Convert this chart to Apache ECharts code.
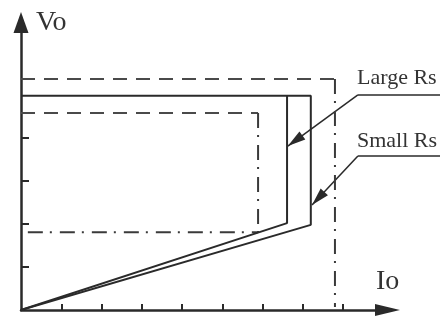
<!DOCTYPE html>
<html lang="en">
<head>
    <meta charset="UTF-8">
    <title>Vo - Io</title>
    <script src="https://cdn.jsdelivr.net/npm/echarts@6/dist/echarts.min.js"></script>
</head>
<body style="margin:0;background:#fff;">
<div id="main" style="width: 440px;height:320px;"></div>
<script>
    // one x unit = one tick on the Io axis, one y unit = one tick on the Vo axis
    var xTicks = [1, 2, 3, 4, 5, 6, 7, 8];
    var yTicks = [1, 2, 3, 4];

    // Vo-Io curves (solid)
    var largeRsCurve = [[0, 0], [6.61, 2.02], [6.61, 4.98]];
    var smallRsCurve = [[0, 0], [7.20, 1.98], [7.20, 4.98], [0, 4.98]];

    // outer limit box
    var outerTop = [[0, 5.37], [7.80, 5.37]];
    var outerSide = [[7.80, 5.37], [7.80, 0.07]];

    // inner limit box
    var innerTop = [[0, 4.58], [5.89, 4.58]];
    var innerSide = [[5.89, 4.58], [5.89, 1.81]];
    var innerBottom = [[0.17, 1.81], [5.89, 1.81]];

    // annotation leaders: underline + arrow to the curve
    var labelNames = ['Large Rs', 'Small Rs'];
    var underlines = [
        [[10.5, 5.0], [8.37, 5.0]],
        [[10.5, 3.58], [8.37, 3.58]]
    ];
    var pointers = [
        [[8.37, 5.0], [6.63, 3.81]],
        [[8.37, 3.58], [7.23, 2.44]]
    ];

    var myChart = echarts.init(document.getElementById('main'));

    var ink = '#2a2a2a';
    var serif = '"Liberation Serif", "DejaVu Serif", serif';
    var dashDot = [15, 7, 2, 8];

    function seg(data, type, color) {
        return {
            type: 'line',
            data: data,
            showSymbol: false,
            symbol: 'none',
            clip: false,
            animation: false,
            lineStyle: {color: color || '#4a4a4a', width: 2, type: type}
        };
    }

    var option = {
        backgroundColor: '#fff',
        animation: false,
        grid: {left: 21, top: 33, right: 65, bottom: 10},
        xAxis: {
            type: 'value',
            min: 0,
            max: 8.795,
            axisLine: {
                lineStyle: {color: ink, width: 2.5},
                symbol: ['none', 'triangle'],
                symbolSize: [12, 25],
                symbolOffset: [0, 12.5]
            },
            axisTick: {show: true, inside: true, length: 6, customValues: xTicks, lineStyle: {color: ink, width: 2}},
            axisLabel: {show: false},
            splitLine: {show: false}
        },
        yAxis: {
            type: 'value',
            min: 0,
            max: 6.44,
            axisLine: {
                show: true,
                lineStyle: {color: ink, width: 2.5},
                symbol: ['none', 'triangle'],
                symbolSize: [15, 21],
                symbolOffset: [0, 10.5]
            },
            axisTick: {show: true, inside: true, length: 8, customValues: yTicks, lineStyle: {color: ink, width: 2}},
            axisLabel: {show: false},
            splitLine: {show: false}
        },
        graphic: [
            {type: 'text', style: {text: 'Vo', x: 36, y: 23, font: '28px ' + serif, fill: '#333', align: 'left', verticalAlign: 'middle'}},
            {type: 'text', style: {text: 'Io', x: 376, y: 282, font: '28px ' + serif, fill: '#333', align: 'left', verticalAlign: 'middle'}},
            {type: 'text', style: {text: labelNames[0], x: 357, y: 78, font: '22px ' + serif, fill: '#333', align: 'left', verticalAlign: 'middle'}},
            {type: 'text', style: {text: labelNames[1], x: 357, y: 141, font: '22px ' + serif, fill: '#333', align: 'left', verticalAlign: 'middle'}}
        ],
        series: [
            seg(outerTop, [14, 9]),
            seg(innerTop, [14, 9]),
            seg(outerSide, dashDot, '#3a3a3a'),
            seg(innerSide, dashDot, '#3a3a3a'),
            seg(innerBottom, dashDot, '#3a3a3a'),
            seg(largeRsCurve, 'solid', ink),
            seg(smallRsCurve, 'solid', ink),
            {
                type: 'lines',
                coordinateSystem: 'cartesian2d',
                clip: false,
                symbol: 'none',
                lineStyle: {color: ink, width: 1.5, opacity: 1},
                data: underlines.map(function (c) { return {coords: c}; })
            },
            {
                type: 'lines',
                coordinateSystem: 'cartesian2d',
                clip: false,
                symbol: ['none', 'path://M5,0 M5,18 L10,36 L0,36 Z'],
                symbolSize: [1, [10, 36]],
                lineStyle: {color: ink, width: 1.5, opacity: 1},
                itemStyle: {color: '#111'},
                data: pointers.map(function (c) { return {coords: c}; })
            }
        ]
    };

    myChart.setOption(option);
</script>
</body>
</html>
